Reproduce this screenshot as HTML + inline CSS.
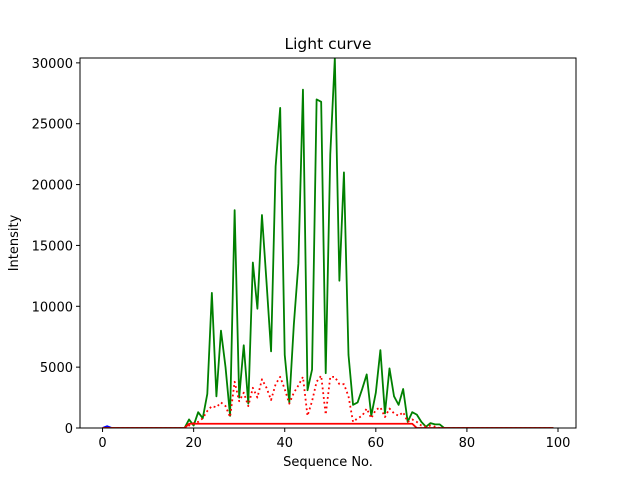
<!DOCTYPE html>
<html><head><meta charset="utf-8"><style>
body{margin:0;background:#fff;}
svg text{font-family:"DejaVu Sans","Liberation Sans",sans-serif;fill:#000;}
</style></head><body>
<svg id="chart" width="640" height="480" xmlns="http://www.w3.org/2000/svg"></svg>
<script>
const green=[0,0,0,0,0,0,0,0,0,0,0,0,0,0,0,0,0,0,0,700,200,1300,800,2800,11100,2600,8000,5000,1000,17900,2500,6800,2000,13600,9800,17500,12000,6300,21500,26300,6000,2100,8500,13500,27800,3100,4800,27000,26800,4500,22500,30400,12100,21000,6000,1900,2100,3200,4400,1000,2900,6400,1200,4900,2600,1900,3200,500,1300,1100,500,100,400,300,300,0,0,0,0,0,0,0,0,0,0,0,0,0,0,0,0,0,0,0,0,0,0,0,0,0];
const dotted=[0,0,0,0,0,0,0,0,0,0,0,0,0,0,0,0,0,0,0,200,400,500,800,1400,1800,1700,2100,1800,900,3800,2200,2900,1800,3300,2500,4000,3300,2300,3600,4200,3200,2000,2900,3500,4200,1000,2200,3800,4300,1100,4200,4200,3600,3600,2600,500,800,1000,1600,800,1500,1700,900,1600,1200,1000,1300,500,700,500,200,100,200,100,0,0,0,0,0,0,0,0,0,0,0,0,0,0,0,0,0,0,0,0,0,0,0,0,0,0];
const solid=[0,0,0,0,0,0,0,0,0,0,0,0,0,0,0,0,0,0,0,350,350,350,350,350,350,350,350,350,350,350,350,350,350,350,350,350,350,350,350,350,350,350,350,350,350,350,350,350,350,350,350,350,350,350,350,350,350,350,350,350,350,350,350,350,350,350,350,350,350,0,0,0,0,0,0,0,0,0,0,0,0,0,0,0,0,0,0,0,0,0,0,0,0,0,0,0,0,0,0,0];
const blue=[0,150,0];
const xTicks=[0,20,40,60,80,100];
const yTicks=[0,5000,10000,15000,20000,25000,30000];
const L=80,R=576,T=58,B=428,xmin=-4.95,xmax=103.95,ymin=0,ymax=30400;
const X=v=>L+(v-xmin)/(xmax-xmin)*(R-L);
const Y=v=>B-(v-ymin)/(ymax-ymin)*(B-T);
const svg=document.getElementById('chart');
const NS='http://www.w3.org/2000/svg';
function mk(t,a,p){const e=document.createElementNS(NS,t);for(const k in a)e.setAttribute(k,a[k]);(p||svg).appendChild(e);return e;}
const clip=mk('clipPath',{id:'c'});mk('rect',{x:L,y:T,width:R-L,height:B-T},clip);
function line(arr,color,name,dash){const pts=arr.map((v,i)=>X(i).toFixed(2)+','+Y(v).toFixed(2)).join(' ');
const p=mk('polyline',{points:pts,fill:'none',stroke:color,'stroke-width':1.8,'clip-path':'url(#c)','stroke-linejoin':'round'});
if(dash)p.setAttribute('stroke-dasharray',dash);

}
line(blue,'#0000ff','series-blue');
line(green,'#008000','series-green');
line(dotted,'#ff0000','series-red-dotted','1.8,3');
line(solid,'#ff0000','series-red-solid');
const fr=mk('rect',{x:L,y:T,width:R-L,height:B-T,fill:'none',stroke:'#000','stroke-width':1});


xTicks.forEach(v=>{mk('line',{x1:X(v),x2:X(v),y1:B,y2:B+4,stroke:'#000'});
const t=mk('text',{x:X(v),y:B+19,'text-anchor':'middle','font-size':13});t.textContent=v;

});
yTicks.forEach(v=>{mk('line',{x1:L-4,x2:L,y1:Y(v),y2:Y(v),stroke:'#000'});
const t=mk('text',{x:L-7,y:Y(v)+5,'text-anchor':'end','font-size':13});t.textContent=v;

});
let t=mk('text',{x:328,y:49,'text-anchor':'middle','font-size':15.5});t.textContent='Light curve';


t=mk('text',{x:328,y:466,'text-anchor':'middle','font-size':13});t.textContent='Sequence No.';


t=mk('text',{x:0,y:0,'text-anchor':'middle','font-size':13,transform:'translate(18,243) rotate(-90)'});t.textContent='Intensity';


</script>
</body></html>
